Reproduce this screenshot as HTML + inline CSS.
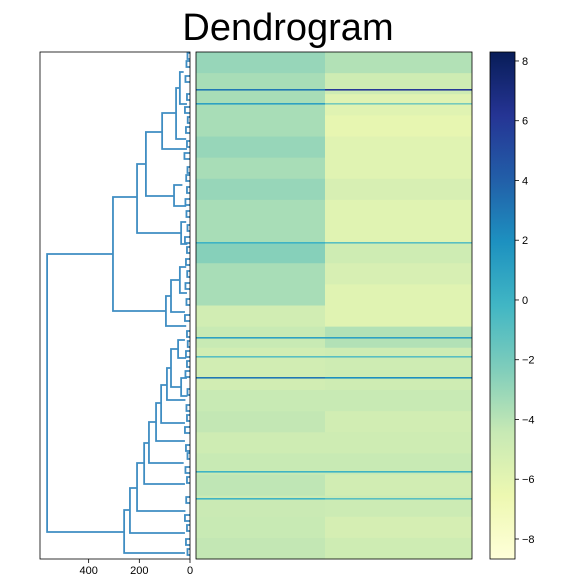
<!DOCTYPE html>
<html><head><meta charset="utf-8"><style>
body{margin:0;background:#fff;}
svg{display:block;font-family:"Liberation Sans",sans-serif;}
</style></head><body>
<svg id="c" width="576" height="576" viewBox="0 0 576 576">
<defs><linearGradient id="cmap" x1="0" y1="1" x2="0" y2="0">
<stop offset="0" stop-color="#ffffd9"/><stop offset="0.125" stop-color="#edf8b1"/><stop offset="0.25" stop-color="#c7e9b4"/><stop offset="0.375" stop-color="#7fcdbb"/><stop offset="0.5" stop-color="#41b6c4"/><stop offset="0.625" stop-color="#1d91c0"/><stop offset="0.75" stop-color="#225ea8"/><stop offset="0.875" stop-color="#253494"/><stop offset="1" stop-color="#081d58"/>
</linearGradient></defs>
<text x="288" y="40" text-anchor="middle" font-size="38" fill="#000">Dendrogram</text>
<g id="dendro"></g>
<g id="heat"></g>
<g id="cbar"></g>
</svg>
<script>
// Dendrogram links: [height, leafTop, leafBottom, childHeightTop, childHeightBottom]
const linkHeights = [564,304,209,174,110,55,40,63,35,95,75,40,260,237,209,181,162,134,114,91,75,47,35];
const linkTops    = [202,145,112,80,61,36,20,133,170,244,228,215,458,436,411,391,370,351,333,316,297,288,326];
const linkBottoms = [480,259,181,144,97,87,52,154,192,274,260,241,501,481,459,432,411,389,371,348,335,306,344];
const linkChildTop= [304,209,174,110,55,40,25,30,15,75,40,15,237,209,181,162,134,114,91,75,47,20,12];
const linkChildBot= [260,95,35,63,12,15,12,15,10,15,20,12,20,20,18,20,25,20,20,18,35,15,10];
// Small leaf-level clusters: centers and heights
const fringeCenters = [4,12,27,45,58,68,78,92,104,118,126,138,150,162,176,188,198,210,222,234,250,266,282,292,302,312,322,340,356,366,378,396,404,418,428,448,466,476,490,500];
const fringeHeights = [10,14,18,12,20,9,16,12,22,10,15,12,18,14,10,20,12,16,11,18,14,20,12,9,16,12,18,10,14,12,20,16,10,18,12,15,20,12,16,10];
const xTicks = [400,200,0];
// Heatmap: row-band values for left and right column groups
const leftVals  = [-3,-3.5,-3.5,-3.5,-3,-3.5,-3,-3.5,-3.5,-2.5,-3.5,-3.5,-5,-4.5,-5,-5,-4.5,-4.3,-4.8,-4.5,-4.2,-4.6,-4.5,-4.3];
const rightVals = [-3.8,-4.8,-5.8,-6.2,-5.8,-5.8,-5.3,-5.8,-5.8,-4.8,-5.3,-5.8,-5.8,-3.8,-4.8,-4.8,-4.5,-5,-4.8,-4.5,-5,-4.7,-5.2,-4.8];
const darkRowPos   = [37,51,190,285,304,325,419,446];
const darkRowLeft  = [3,1,0,1,-1,3,0,0];
const darkRowRight = [6,-2,-1,1,-1,2,0,-1];
const cbarTicks = [8,6,4,2,0,-2,-4,-6,-8];
const vmin=-8.67, vmax=8.3;

const NS="http://www.w3.org/2000/svg";
function mk(tag,attrs,parent){const e=document.createElementNS(NS,tag);for(const k in attrs)e.setAttribute(k,attrs[k]);parent.appendChild(e);return e;}
const stops=["#ffffd9","#edf8b1","#c7e9b4","#7fcdbb","#41b6c4","#1d91c0","#225ea8","#253494","#081d58"];
function hx(c){return [1,3,5].map(i=>parseInt(c.substr(i,2),16));}
function cmap(v){let t=(v-vmin)/(vmax-vmin);t=Math.max(0,Math.min(1,t))*8;const i=Math.min(7,Math.floor(t)),f=t-i;const a=hx(stops[i]),b=hx(stops[i+1]);return "rgb("+a.map((x,k)=>Math.round(x+(b[k]-x)*f)).join(",")+")";}

// Dendrogram axes
const dg=document.getElementById('dendro');
const DX0=40,DX1=190,DY0=52,DY1=559;
const xScale=h=>DX1-(h/592)*(DX1-DX0);
const yScale=u=>DY0+u*(DY1-DY0)/507;
const lc="#3f8dc2";
function U(h,t,b,ht,hb){
  const p=mk('path',{d:`M${xScale(ht)},${yScale(t)}H${xScale(h)}V${yScale(b)}H${xScale(hb)}`,fill:"none",stroke:lc,"stroke-width":1.8},dg);
  
  
}
for(let i=0;i<fringeCenters.length;i++){U(fringeHeights[i],fringeCenters[i]-3,fringeCenters[i]+3,0,0);}
for(let i=0;i<linkHeights.length;i++){U(linkHeights[i],linkTops[i],linkBottoms[i],linkChildTop[i],linkChildBot[i]);}
const frame=mk('rect',{x:DX0,y:DY0,width:DX1-DX0,height:DY1-DY0,fill:"none",stroke:"#000","stroke-width":0.8},dg);


xTicks.forEach(v=>{
  const x=xScale(v);
  mk('line',{x1:x,y1:DY1,x2:x,y2:DY1+4,stroke:"#000","stroke-width":0.8},dg);
  const t=mk('text',{x:x,y:DY1+15,"text-anchor":"middle","font-size":11},dg);
  t.textContent=v;
  
  
});

// Heatmap
const hg=document.getElementById('heat');
const HX0=196,HX1=472,HXM=325;
const bandH=507/leftVals.length;
for(let r=0;r<leftVals.length;r++){
  const y=DY0+r*bandH;
  const a=mk('rect',{x:HX0,y:y,width:HXM-HX0,height:bandH+0.5,fill:cmap(leftVals[r])},hg);
  
  
  const b=mk('rect',{x:HXM,y:y,width:HX1-HXM,height:bandH+0.5,fill:cmap(rightVals[r])},hg);
  
  
}
for(let i=0;i<darkRowPos.length;i++){
  const y=yScale(darkRowPos[i]);
  const a=mk('rect',{x:HX0,y:y,width:HXM-HX0,height:1.6,fill:cmap(darkRowLeft[i])},hg);
  
  
  const b=mk('rect',{x:HXM,y:y,width:HX1-HXM,height:1.6,fill:cmap(darkRowRight[i])},hg);
  
  
}
const hf=mk('rect',{x:HX0,y:DY0,width:HX1-HX0,height:DY1-DY0,fill:"none",stroke:"#000","stroke-width":0.8},hg);



// Colorbar
const cg=document.getElementById('cbar');
const CX0=490,CX1=515;
const cScale=v=>DY1-(v-vmin)/(vmax-vmin)*(DY1-DY0);
const cr=mk('rect',{x:CX0,y:DY0,width:CX1-CX0,height:DY1-DY0,fill:"url(#cmap)",stroke:"#000","stroke-width":0.8},cg);


cbarTicks.forEach(v=>{
  const y=cScale(v);
  mk('line',{x1:CX1,y1:y,x2:CX1+4,y2:y,stroke:"#000","stroke-width":0.8},cg);
  const t=mk('text',{x:CX1+7,y:y+4,"font-size":11},cg);
  t.textContent=v<0?"\u2212"+Math.abs(v):String(v);
  
  
});
</script>
</body></html>
